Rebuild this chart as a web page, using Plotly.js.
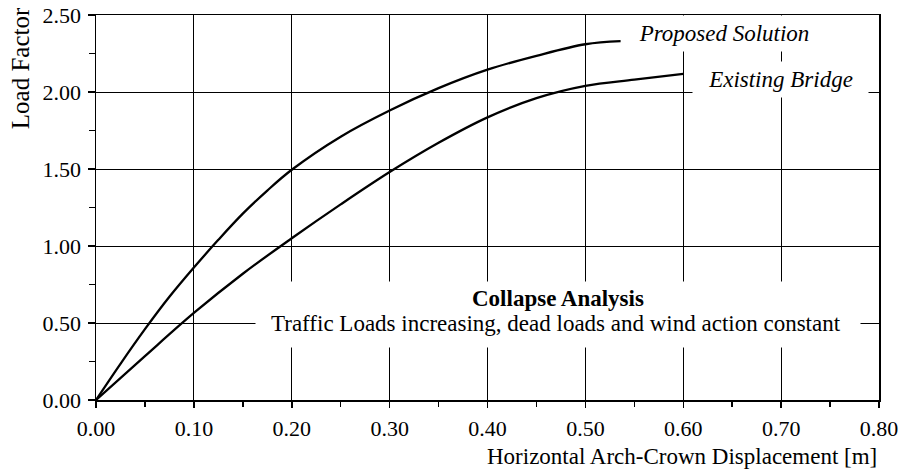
<!DOCTYPE html>
<html>
<head>
<meta charset="utf-8">
<script src="https://cdn.plot.ly/plotly-3.0.1.min.js"></script>
<style>html,body{margin:0;padding:0;background:#fff;}#chart{width:900px;height:475px;}</style>
</head>
<body>
<div id="chart"></div>
<script>
// Proposed Solution curve
const proposedX = [0, 0.025, 0.05, 0.075, 0.10, 0.125, 0.15, 0.175, 0.20, 0.25, 0.30, 0.35, 0.40, 0.45, 0.50, 0.536];
const proposedY = [0, 0.235, 0.46, 0.67, 0.86, 1.04, 1.21, 1.36, 1.495, 1.71, 1.88, 2.025, 2.145, 2.235, 2.31, 2.33];
// Existing Bridge curve
const existingX = [0, 0.05, 0.10, 0.15, 0.20, 0.25, 0.30, 0.35, 0.40, 0.45, 0.50, 0.55, 0.60];
const existingY = [0, 0.285, 0.565, 0.82, 1.05, 1.27, 1.48, 1.67, 1.835, 1.96, 2.04, 2.08, 2.117];

const xTickVals = [0, 0.1, 0.2, 0.3, 0.4, 0.5, 0.6, 0.7, 0.8];
const xTickText = ["0.00", "0.10", "0.20", "0.30", "0.40", "0.50", "0.60", "0.70", "0.80"];
const yTickVals = [0, 0.5, 1.0, 1.5, 2.0, 2.5];
const yTickText = ["0.00", "0.50", "1.00", "1.50", "2.00", "2.50"];

const xTitle = "Horizontal Arch-Crown Displacement [m]";
const yTitle = "Load Factor";
const proposedLabel = "Proposed Solution";
const existingLabel = "Existing Bridge";
const noteTitle = "Collapse Analysis";
const noteText = "Traffic Loads increasing, dead loads and wind action constant";

const FONT = "Liberation Serif, Times New Roman, serif";

const traces = [
  {x: proposedX, y: proposedY, type: "scatter", mode: "lines", name: proposedLabel,
   line: {color: "#000", width: 2.3, shape: "spline", smoothing: 1}, hoverinfo: "skip"},
  {x: existingX, y: existingY, type: "scatter", mode: "lines", name: existingLabel,
   line: {color: "#000", width: 2.3, shape: "spline", smoothing: 1}, hoverinfo: "skip"}
];

const layout = {
  width: 900, height: 475,
  margin: {l: 96, r: 21, t: 15, b: 75},
  paper_bgcolor: "#fff", plot_bgcolor: "#fff",
  showlegend: false,
  font: {family: FONT, size: 22, color: "#000"},
  xaxis: {
    range: [0, 0.8], tickvals: xTickVals, ticktext: xTickText,
    showgrid: true, gridcolor: "#000", gridwidth: 1, zeroline: false,
    showline: true, linecolor: "#000", linewidth: 1.5, mirror: true,
    ticks: "outside", ticklen: 6, tickcolor: "#000", tickwidth: 1.5, ticklabelstandoff: 2,
    minor: {dtick: 0.05, ticks: "outside", ticklen: 5, tickcolor: "#000", tickwidth: 1.5, showgrid: false},
    tickfont: {family: FONT, size: 22, color: "#000"}
  },
  yaxis: {
    range: [0, 2.5], tickvals: yTickVals, ticktext: yTickText,
    showgrid: true, gridcolor: "#000", gridwidth: 1, zeroline: false,
    showline: true, linecolor: "#000", linewidth: 1.5, mirror: true,
    ticks: "outside", ticklen: 7, tickcolor: "#000", tickwidth: 1.5, ticklabelstandoff: 2,
    minor: {dtick: 0.25, ticks: "outside", ticklen: 6, tickcolor: "#000", tickwidth: 1.5, showgrid: false},
    tickfont: {family: FONT, size: 22, color: "#000"}
  },
  annotations: [
    {xref: "x", yref: "y", x: 0.6416, y: 2.377, text: "<i>" + proposedLabel + "</i>", showarrow: false,
     bgcolor: "#fff", width: 192, height: 35, borderpad: 0, xanchor: "center", yanchor: "middle",
     font: {family: FONT, size: 23, color: "#000"}},
    {xref: "x", yref: "y", x: 0.6994, y: 2.081, text: "<i>" + existingLabel + "</i>", showarrow: false,
     bgcolor: "#fff", width: 175, height: 35, borderpad: 0, xanchor: "center", yanchor: "middle",
     font: {family: FONT, size: 23, color: "#000"}},
    {xref: "x", yref: "y", x: 0.472, y: 0.555, text: " ", showarrow: false,
     bgcolor: "#fff", width: 604, height: 65, borderpad: 0, xanchor: "center", yanchor: "middle",
     font: {family: FONT, size: 20, color: "#000"}},
    {xref: "x", yref: "y", x: 0.472, y: 0.662, text: "<b>" + noteTitle + "</b>", showarrow: false,
     xanchor: "center", yanchor: "middle", font: {family: FONT, size: 23, color: "#000"}},
    {xref: "x", yref: "y", x: 0.470, y: 0.50, text: noteText, showarrow: false,
     xanchor: "center", yanchor: "middle", font: {family: FONT, size: 23, color: "#000"}},
    {xref: "paper", yref: "paper", x: -0.097, y: 0.862, text: yTitle, textangle: -90, showarrow: false,
     xanchor: "center", yanchor: "middle", font: {family: FONT, size: 25, color: "#000"}},
    {xref: "paper", yref: "paper", x: 1.0, y: -0.148, text: xTitle, showarrow: false,
     xanchor: "right", yanchor: "middle", font: {family: FONT, size: 23, color: "#000"}}
  ]
};

Plotly.newPlot("chart", traces, layout, {staticPlot: true, displayModeBar: false});
</script>
</body>
</html>
